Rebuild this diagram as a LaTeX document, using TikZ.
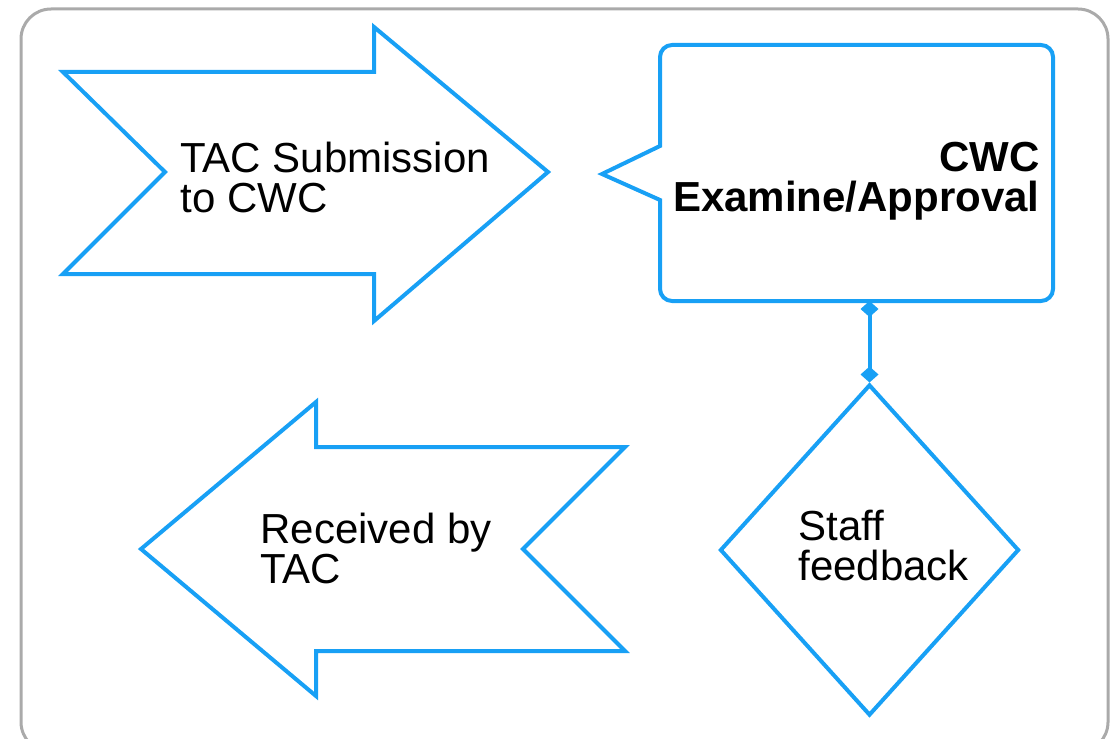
\documentclass[tikz,border=0pt]{standalone}
\usepackage{fontspec}
\setmainfont{Liberation Sans}
\usetikzlibrary{shapes.geometric,arrows.meta,positioning,calc}
\definecolor{flowblue}{RGB}{24,160,245}
\definecolor{framegray}{RGB}{170,170,170}
\tikzset{
shapeline/.style = {draw=flowblue, line width=2pt},
frame/.style = {draw=framegray, line width=1.5pt, rounded corners=15pt},
txt/.style = {font=\fontsize{21}{20}\selectfont, align=left, inner sep=0pt},
boldtxt/.style = {txt, align=right, font=\fontsize{21}{20}\selectfont\bfseries},
callbox/.style = {rectangle, minimum width=196.5pt, minimum height=128pt, outer sep=0pt},
decision/.style = {shapeline, diamond, minimum width=149.5pt, minimum height=165.5pt, inner sep=0pt},
link/.style = {draw=flowblue, line width=2pt, {Diamond[length=8pt,width=9pt]}-{Diamond[length=8pt,width=9pt]}}
}
\begin{document}
\begin{tikzpicture}[x=0.5pt, y=-0.5pt]
  \useasboundingbox (0,0) rectangle (1111,738);
  \draw [frame] (21,9) rectangle (1108,752);

  % submission arrow
  \draw [shapeline] (63,72) -- (374,72) -- (374,27) -- (548,172) -- (374,321)
    -- (374,274) -- (63,274) -- (165,172) -- cycle;
  \node [txt, anchor=west]                    (submit)   at (180,177) {TAC Submission\\to CWC};

  % callout box
  \node [callbox]                             (cwc)      at (856.5,173) {};
  \draw [shapeline] ($(cwc.west)+(0,-27)$) [rounded corners=6pt] -- (cwc.north west) -- (cwc.north east)
    -- (cwc.south east) -- (cwc.south west) [sharp corners] -- ($(cwc.west)+(0,27)$)
    -- (602,174) -- cycle;
  \node [boldtxt, anchor=east]                (cwctext)  at ([xshift=-6.5pt,yshift=-4pt]cwc.east) {CWC\\Examine/Approval};

  % received arrow
  \draw [shapeline] (141,549) -- (316,402) -- (316,447) -- (625,447) -- (523,549)
    -- (625,651) -- (316,651) -- (316,696) -- cycle;
  \node [txt, anchor=west]                    (received) at (260,548) {Received by\\TAC};

  \node [decision]                            (staff)    at (869.5,550) {};
  \node [txt, anchor=west]                    (stafftext) at (798,545) {Staff\\feedback};

  \draw [link] (staff.north |- cwc.south) -- (staff.north);
\end{tikzpicture}
\end{document}
